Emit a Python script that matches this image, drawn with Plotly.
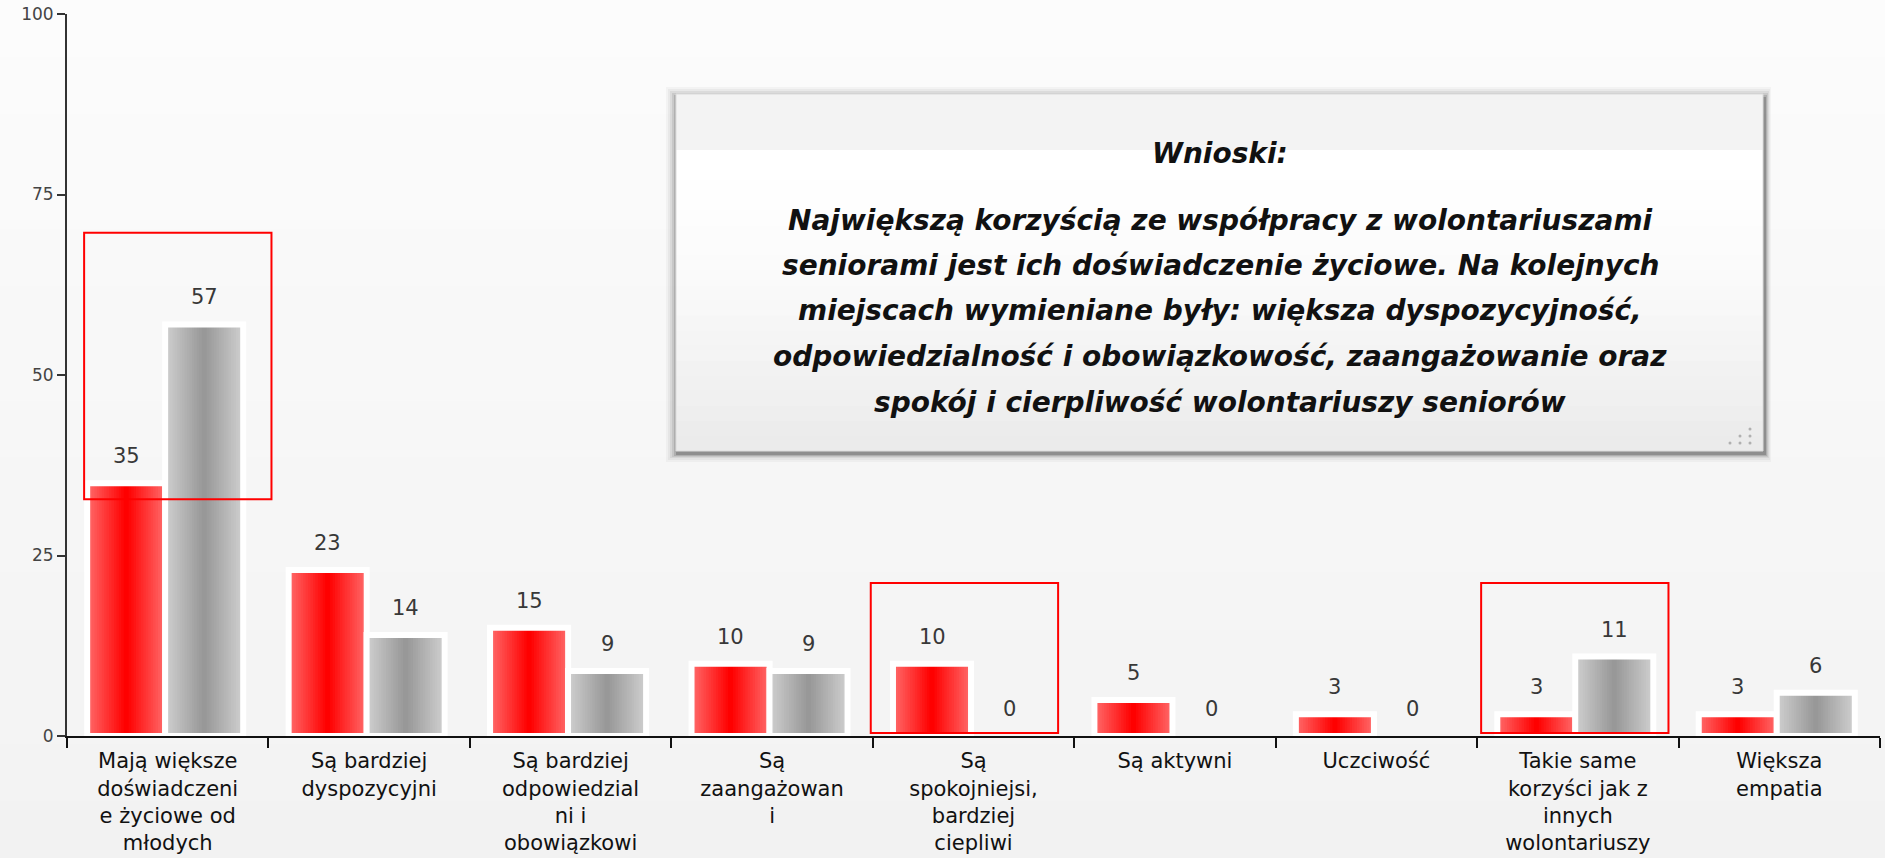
import plotly.graph_objects as go

# ---------------- data ----------------
categories = [
    "Mają większe<br>doświadczeni<br>e życiowe od<br>młodych",
    "Są bardziej<br>dyspozycyjni",
    "Są bardziej<br>odpowiedzial<br>ni i<br>obowiązkowi",
    "Są<br>zaangażowan<br>i",
    "Są<br>spokojniejsi,<br>bardziej<br>ciepliwi",
    "Są aktywni",
    "Uczciwość",
    "Takie same<br>korzyści jak z<br>innych<br>wolontariuszy",
    "Większa<br>empatia",
]
red_values = [35, 23, 15, 10, 10, 5, 3, 3, 3]
gray_values = [57, 14, 9, 9, 0, 0, 0, 11, 6]
y_ticks = [0, 25, 50, 75, 100]

title_text = "Wnioski:"
conclusion_lines = [
    "Największą korzyścią ze współpracy z wolontariuszami",
    "seniorami jest ich doświadczenie życiowe. Na kolejnych",
    "miejscach wymieniane były: większa dyspozycyjność,",
    "odpowiedzialność i obowiązkowość, zaangażowanie oraz",
    "spokój i cierpliwość wolontariuszy seniorów",
]

# ---------------- layout geometry ----------------
W, H = 1885, 858
L, T, R, B = 67, 14, 5, 122
PW, PH = W - L - R, H - T - B


def px_x(px):
    return (px - L) / PW


def px_y(py):
    return (T + PH - py) / PH


BAR_W = 0.3875
RED_C = -0.206
GRAY_C = 0.181
N_STEPS = 16


def lerp(c1, c2, t):
    return "rgb(%d,%d,%d)" % tuple(round(a + (b - a) * t) for a, b in zip(c1, c2))


fig = go.Figure()


def add_gradient_bars(values, center, edge_col, mid_col):
    for k in range(N_STEPS):
        t = k / (N_STEPS - 1)
        w = BAR_W * (1 - k / N_STEPS)
        fig.add_trace(go.Bar(
            x=categories, y=values, width=w, offset=center - w / 2,
            marker=dict(color=lerp(edge_col, mid_col, t), line=dict(width=0)),
            showlegend=False, hoverinfo="skip",
        ))
    fig.add_trace(go.Bar(
        x=categories, y=values, width=BAR_W, offset=center - BAR_W / 2,
        marker=dict(color="rgba(0,0,0,0)",
                    line=dict(color="white", width=[6 if v > 0 else 0 for v in values])),
        showlegend=False, hoverinfo="skip",
    ))


add_gradient_bars(red_values, RED_C, (255, 104, 104), (255, 0, 0))
add_gradient_bars(gray_values, GRAY_C, (206, 206, 206), (152, 152, 152))

annotations = []
for i, (rv, gv) in enumerate(zip(red_values, gray_values)):
    for v, c in ((rv, RED_C), (gv, GRAY_C)):
        annotations.append(dict(
            x=i + c, y=v, xref="x", yref="y", text=str(v), showarrow=False,
            yshift=27, yanchor="middle", xanchor="center",
            font=dict(family="DejaVu Sans", size=21, color="#383838"),
        ))

BOX_FONT = dict(family="DejaVu Sans", size=28, color="#111111")
annotations.append(dict(
    x=px_x(1220), y=px_y(153), xref="paper", yref="paper", text="<b><i>%s</i></b>" % title_text,
    showarrow=False, xanchor="center", yanchor="middle", font=BOX_FONT,
))
line_centers = [220, 265.5, 311, 356.5, 402]
for txt, yc in zip(conclusion_lines, line_centers):
    annotations.append(dict(
        x=px_x(1220), y=px_y(yc), xref="paper", yref="paper", text="<b><i>%s</i></b>" % txt,
        showarrow=False, xanchor="center", yanchor="middle", font=BOX_FONT,
    ))

shapes = []
# background vertical gradient
NB = 30
for k in range(NB):
    y0p = H * k / NB
    y1p = H * (k + 1) / NB
    t = (k + 0.5) / NB
    shapes.append(dict(
        type="rect", xref="paper", yref="paper", layer="below",
        x0=px_x(0), x1=px_x(W), y0=px_y(y1p + 2), y1=px_y(y0p),
        fillcolor=lerp((252, 252, 252), (242, 242, 242), t), line=dict(width=0),
    ))

# highlight boxes (in data coordinates)
for x0, x1, y0, y1 in [(-0.415, 0.515, 32.8, 69.7), (3.49, 4.42, 0.4, 21.2), (6.52, 7.45, 0.4, 21.2)]:
    shapes.append(dict(type="rect", xref="x", yref="y", x0=x0, x1=x1, y0=y0, y1=y1,
                       line=dict(color="#ff0000", width=2), fillcolor="rgba(0,0,0,0)", layer="above"))

# conclusion box shadow
BX0, BY0, BX1, BY1 = 676, 94, 1763, 451
for dx0, dy0, dx1, dy1, a in [(-10, -7, 8, 11, 0.03), (-8, -5, 7, 9, 0.04), (-6, -3, 6, 7, 0.06),
                              (-4, -1, 5, 6, 0.08), (-2, 1, 4, 5, 0.12), (0, 3, 3, 4, 0.18)]:
    shapes.append(dict(type="rect", xref="paper", yref="paper", layer="above",
                       x0=px_x(BX0 + dx0), x1=px_x(BX1 + dx1), y0=px_y(BY1 + dy1), y1=px_y(BY0 + dy0),
                       fillcolor="rgba(0,0,0,%.2f)" % a, line=dict(width=0)))
# box body
shapes.append(dict(type="rect", xref="paper", yref="paper", layer="above",
                   x0=px_x(BX0), x1=px_x(BX1), y0=px_y(152), y1=px_y(BY0),
                   fillcolor="#f3f3f3", line=dict(width=0)))
NG = 20
for k in range(NG):
    ya = 150 + (BY1 - 150) * k / NG
    yb = 150 + (BY1 - 150) * (k + 1) / NG
    t = ((k + 0.5) / NG) ** 1.6
    shapes.append(dict(type="rect", xref="paper", yref="paper", layer="above",
                       x0=px_x(BX0), x1=px_x(BX1), y0=px_y(min(yb + 2, BY1)), y1=px_y(ya),
                       fillcolor=lerp((255, 255, 255), (234, 234, 234), t), line=dict(width=0)))
shapes.append(dict(type="rect", xref="paper", yref="paper", layer="above",
                   x0=px_x(BX0), x1=px_x(BX1), y0=px_y(BY1), y1=px_y(BY0),
                   fillcolor="rgba(0,0,0,0)", line=dict(color="#dcdcdc", width=1)))
# resize grip dots
for gx, gy in [(1730, 443), (1740, 443), (1750, 443), (1740, 436), (1750, 436), (1750, 429)]:
    shapes.append(dict(type="circle", xref="paper", yref="paper", layer="above",
                       x0=px_x(gx - 1.5), x1=px_x(gx + 1.5), y0=px_y(gy + 1.5), y1=px_y(gy - 1.5),
                       fillcolor="#b0b0b0", line=dict(width=0)))

fig.update_layout(
    width=W, height=H,
    margin=dict(l=L, r=R, t=T, b=B, pad=0, autoexpand=False),
    barmode="overlay",
    paper_bgcolor="#f6f6f6",
    plot_bgcolor="rgba(0,0,0,0)",
    showlegend=False,
    shapes=shapes,
    annotations=annotations,
    xaxis=dict(
        type="category", range=[-0.5, 8.5], automargin=False,
        showline=True, linecolor="#111111", linewidth=2,
        ticks="outside", tickson="boundaries", ticklen=10, tickwidth=2, tickcolor="#111111",
        ticklabelstandoff=5,
        showgrid=False, zeroline=False,
        tickfont=dict(family="DejaVu Sans", size=21, color="#111111"),
    ),
    yaxis=dict(
        range=[0, 100], tickvals=y_ticks, ticktext=[str(v) for v in y_ticks], automargin=False,
        showline=True, linecolor="#333333", linewidth=2,
        ticks="outside", ticklen=8, tickwidth=2, tickcolor="#333333",
        showgrid=False, zeroline=False,
        tickfont=dict(family="DejaVu Sans", size=17, color="#444444"),
    ),
)

fig.write_html("out.html", config={"displayModeBar": False},
               post_script="document.body.style.margin='0';document.body.style.overflow='hidden';")
